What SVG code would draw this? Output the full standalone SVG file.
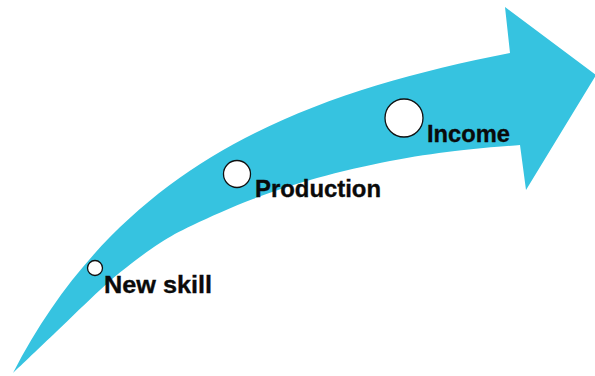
<svg xmlns="http://www.w3.org/2000/svg" width="595" height="376" viewBox="0 0 595 376">
  <style>
    .arrow { fill: #36C3E0; }
    .dot { fill: #FFFFFF; stroke: #111111; stroke-width: 1.3; }
    .label { font-family: "Liberation Sans", Arial, sans-serif; font-weight: bold; font-size: 24px; fill: #0A0A0A; stroke: #0A0A0A; stroke-width: 0.35; }
  </style>
  <rect width="595" height="376" fill="#FFFFFF"/>
  <g id="connectors">
    <!-- curved rising arrow: upper edge, head, then lower edge back to the tail point -->
    <path class="arrow" d="M13,373
      C120,165 300,94 510,53
      L505,7 L596,75 L526,190 L520,145
      C509.2,146 476.7,148.3 455,151
      C433.3,153.7 413,156.5 390,161
      C367,165.5 339.8,171.7 317,178
      C294.2,184.3 273.7,191.2 253,199
      C232.3,206.8 208.5,217.7 193,225
      C177.5,232.3 171,236 160,243
      C149,250 137,259.2 127,267
      C117,274.8 111.8,279.2 100,290
      C88.2,300.8 70.5,318.2 56,332
      C41.5,345.8 20.2,366.2 13,373 Z"/>
  </g>
  <g id="new-skill">
    <circle class="dot" cx="95" cy="268" r="7.5"/>
    <text class="label" x="104" y="293" textLength="108" lengthAdjust="spacingAndGlyphs">New skill</text>
  </g>
  <g id="production">
    <circle class="dot" cx="237" cy="174" r="13.5"/>
    <text class="label" x="255" y="197" textLength="126" lengthAdjust="spacingAndGlyphs">Production</text>
  </g>
  <g id="income">
    <circle class="dot" cx="404" cy="118" r="19"/>
    <text class="label" x="427" y="142" textLength="83" lengthAdjust="spacingAndGlyphs">Income</text>
  </g>
</svg>
